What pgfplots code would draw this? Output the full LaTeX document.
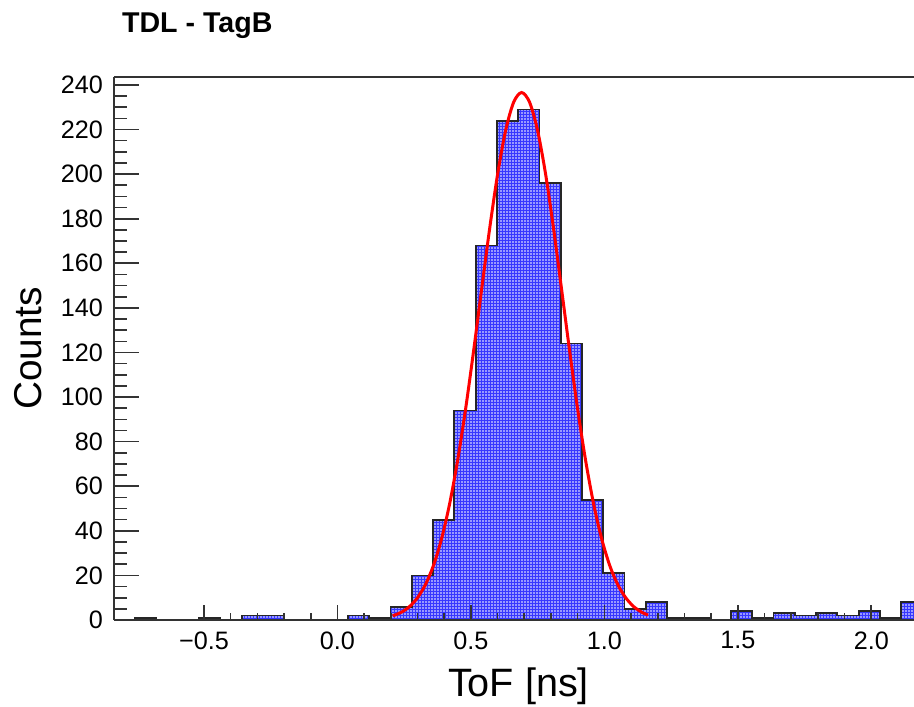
\documentclass[border=0pt]{standalone}
\usepackage{fontspec}
\setmainfont{Liberation Sans}
\usepackage{pgfplots}
\pgfplotsset{compat=1.18}
\usetikzlibrary{patterns.meta}
\definecolor{histblue}{RGB}{55,55,255}

\begin{document}
\begin{tikzpicture}
\begin{axis}[
  at={(0,0)}, anchor=south west,
  scale only axis, width=400bp, height=271.65bp,
  xmin=-0.837, xmax=2.160, ymin=0, ymax=243.7,
  axis on top,
  axis x line*=box, axis y line*=left,
  axis line style={-, draw=black!80, line width=1.1bp},
  tick align=inside, xtick pos=left, ytick pos=left,
  xtick={-0.5,0,0.5,1,1.5,2},
  xticklabels={−0.5,0.0,0.5,1.0,1.5,2.0},
  ytick={0,20,40,60,80,100,120,140,160,180,200,220,240},
  yticklabels={0,20,40,60,80,100,120,140,160,180,200,220,240},
  minor x tick num=4, minor y tick num=3,
  major tick length=12.5bp, minor tick length=6.5bp,
  xtick style={/pgfplots/major tick length=7.5bp,/pgfplots/minor tick length=3.7bp},
  tick style={draw=black!80, line width=0.8bp},
  ticklabel style={font=\fontsize{12.6bp}{15bp}\selectfont},
  yticklabel style={xshift=-2bp},
  xticklabel style={yshift=-2.3bp},
  xlabel={ToF [ns]},
  xlabel style={at={(axis description cs:0.5056,-0.141)}, anchor=base, font=\fontsize{19.8bp}{24bp}\selectfont},
  ylabel={Counts},
  ylabel style={at={(axis description cs:-0.09,0.5)}, anchor=base, font=\fontsize{19.4bp}{24bp}\selectfont},
  clip=true,
]
\addplot[const plot, draw=black!85, line width=0.9bp, fill=histblue,
  postaction={pattern={Dots[distance=1.5bp, radius=0.5bp]}, pattern color=white}]
  coordinates {
(-0.8370,0) (-0.7573,1) (-0.6776,0) (-0.5979,0) (-0.5182,1) (-0.4385,0)
(-0.3588,2) (-0.2791,2) (-0.1994,0) (-0.1197,0) (-0.0400,0) (0.0397,2)
(0.1194,1) (0.1991,6) (0.2788,20) (0.3585,45) (0.4382,94) (0.5179,168)
(0.5976,224) (0.6773,229) (0.7570,196) (0.8367,124) (0.9164,54) (0.9961,21)
(1.0758,5) (1.1555,8) (1.2352,1) (1.3149,1) (1.3946,0) (1.4743,4)
(1.5540,1) (1.6337,3) (1.7134,2) (1.7931,3) (1.8728,2) (1.9525,4)
(2.0322,1) (2.1119,8) (2.1916,8)
  } \closedcycle;
\addplot[red, line width=1.5bp, smooth] coordinates {
(0.207,1.84) (0.24,3.50) (0.27,6.02) (0.30,9.98) (0.33,15.94) (0.36,24.54)
(0.39,36.37) (0.42,51.92) (0.45,71.36) (0.48,94.50) (0.51,120.55) (0.54,148.14)
(0.57,175.32) (0.60,199.90) (0.63,219.5) (0.66,232.2) (0.69,236.6) (0.72,232.2)
(0.75,219.5) (0.78,199.9) (0.81,175.3) (0.84,148.1) (0.87,120.6) (0.90,94.5)
(0.93,71.4) (0.96,51.9) (0.99,36.4) (1.02,24.5) (1.05,15.9) (1.08,10.0)
(1.11,6.0) (1.14,3.5) (1.164,2.2)
};
\end{axis}
\node[anchor=base west, font=\bfseries\fontsize{14.3bp}{17bp}\selectfont] at (0.5bp,293.85bp) {TDL - TagB};
\pgfresetboundingbox
\useasboundingbox (-57bp,-43.5bp) rectangle (400bp,310bp);
\end{tikzpicture}
\end{document}
